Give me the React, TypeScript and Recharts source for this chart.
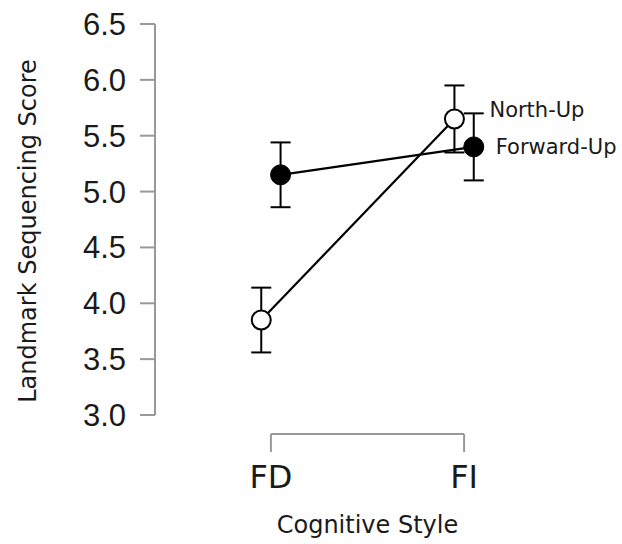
import {
  ComposedChart,
  Line,
  XAxis,
  YAxis,
  ErrorBar,
  ReferenceLine,
  LabelList,
  Label,
} from "recharts";

const categories = ["FD", "FI"];
const northUp = [3.85, 5.65];
const northUpErr = [0.29, 0.3];
const forwardUp = [5.15, 5.4];
const forwardUpErr = [0.29, 0.3];
const yTicks = [3.0, 3.5, 4.0, 4.5, 5.0, 5.5, 6.0, 6.5];

const AXIS = "#999999";
const TEXT = "#1a1a1a";
const SANS = "'DejaVu Sans', Verdana, sans-serif";
const DODGE = 0.05;

function buildSeries(values: number[], errs: number[], shift: number) {
  return values.map((v, i) => ({ pos: i + shift, value: v, err: errs[i] }));
}

const northData = buildSeries(northUp, northUpErr, -DODGE);
const forwardData = buildSeries(forwardUp, forwardUpErr, DODGE);

function XTick(props: any) {
  const { x, y, payload } = props;
  return (
    <g>
      <line x1={x} x2={x} y1={y + 19} y2={y + 37} stroke={AXIS} strokeWidth={2} />
      <text
        x={x}
        y={y + 62}
        textAnchor="middle"
        dominantBaseline="central"
        fontFamily={SANS}
        fontSize={32}
        fill={TEXT}
      >
        {categories[payload.value]}
      </text>
    </g>
  );
}

function endLabel(name: string, dx: number, dy: number) {
  return (props: any) => {
    const { x, y, index } = props;
    if (index !== categories.length - 1) return null;
    return (
      <text
        x={x + dx}
        y={y + dy}
        dominantBaseline="central"
        fontFamily={SANS}
        fontSize={21}
        fill={TEXT}
      >
        {name}
      </text>
    );
  };
}

export default function App() {
  return (
    <div style={{ position: "absolute", left: 0, top: 0 }}>
      <ComposedChart
        width={622}
        height={544}
        margin={{ top: 24, right: 42, bottom: 0, left: 0 }}
      >
        <XAxis
          dataKey="pos"
          type="number"
          domain={[-0.6, 1.6]}
          ticks={[0, 1]}
          allowDataOverflow
          axisLine={false}
          tickLine={false}
          tickSize={0}
          tickMargin={0}
          height={129}
          tick={<XTick />}
        >
          <Label
            value="Cognitive Style"
            position="insideBottom"
            offset={11}
            style={{ fontFamily: SANS, fontSize: 24, fill: TEXT }}
          />
        </XAxis>
        <YAxis
          type="number"
          domain={[3, 6.5]}
          ticks={yTicks}
          interval={0}
          width={155}
          tickSize={15}
          tickMargin={14}
          tickFormatter={(v: number) => v.toFixed(1)}
          axisLine={{ stroke: AXIS, strokeWidth: 2 }}
          tickLine={{ stroke: AXIS, strokeWidth: 2 }}
          tick={{ fontFamily: "'Liberation Sans', Arial, sans-serif", fontSize: 31, fill: TEXT }}
        >
          <Label
            content={() => (
              <text
                x={28}
                y={231}
                transform="rotate(-90 28 231)"
                textAnchor="middle"
                dominantBaseline="central"
                fontFamily={SANS}
                fontSize={24}
                fill={TEXT}
              >
                Landmark Sequencing Score
              </text>
            )}
          />
        </YAxis>
        <ReferenceLine
          segment={[
            { x: 0, y: 2.83 },
            { x: 1, y: 2.83 },
          ]}
          ifOverflow="visible"
          stroke={AXIS}
          strokeWidth={2}
        />
        <Line
          data={northData}
          dataKey="value"
          name="North-Up"
          stroke="#000"
          strokeWidth={2.2}
          dot={{ r: 9.5, fill: "#fff", stroke: "#000", strokeWidth: 2 }}
          isAnimationActive={false}
        >
          <ErrorBar dataKey="err" direction="y" width={10} stroke="#000" strokeWidth={2} />
          <LabelList dataKey="value" content={endLabel("North-Up", 35, -9)} />
        </Line>
        <Line
          data={forwardData}
          dataKey="value"
          name="Forward-Up"
          stroke="#000"
          strokeWidth={2.2}
          dot={{ r: 10, fill: "#000", stroke: "#000", strokeWidth: 1 }}
          isAnimationActive={false}
        >
          <ErrorBar dataKey="err" direction="y" width={10} stroke="#000" strokeWidth={2} />
          <LabelList dataKey="value" content={endLabel("Forward-Up", 22, 0)} />
        </Line>
      </ComposedChart>
    </div>
  );
}
